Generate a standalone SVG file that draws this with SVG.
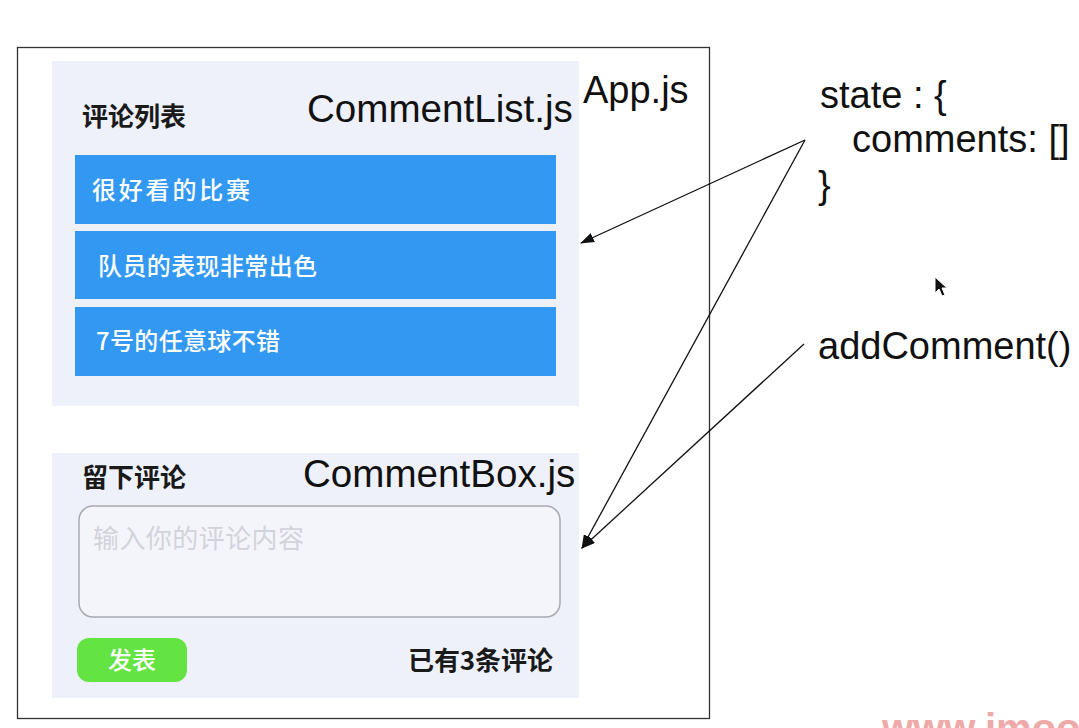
<svg xmlns="http://www.w3.org/2000/svg" width="1079" height="728" viewBox="0 0 1079 728">
<defs>
<style>
.lat{font-family:"Liberation Sans",Arial,sans-serif;font-size:38.6px;fill:#111}
.rt{font-size:38px}
.cjk{font-family:"Noto Sans CJK SC","Noto Sans",sans-serif}
.panel{fill:#eef1fa}
.row{fill:#3298f2}
.rowt{font-size:24px;fill:#ffffff;font-weight:500}
.head{font-size:26px;font-weight:bold;fill:#1a1a1a}
.conn{stroke:#111;stroke-width:1.3;fill:none;marker-end:url(#ah)}
</style>
<marker id="ah" viewBox="0 0 14 10" refX="13" refY="5" markerWidth="14" markerHeight="10" markerUnits="userSpaceOnUse" orient="auto">
<path d="M0,0 L14,5 L0,10 z" fill="#111"/>
</marker>
</defs>
<rect width="1079" height="728" fill="#ffffff"/>

<g id="app">
<rect x="17.5" y="47.5" width="692" height="671" fill="none" stroke="#333" stroke-width="1.3"/>
<text class="lat rt" x="583" y="103">App.js</text>
</g>

<g id="commentlist">
<rect class="panel" x="52" y="61" width="527" height="345"/>
<text class="cjk head" x="82" y="126" textLength="104">评论列表</text>
<text class="lat" x="307" y="122">CommentList.js</text>
<g id="item1">
<rect class="row" x="75" y="155" width="481" height="69"/>
<text class="cjk rowt" x="92" y="199" font-size="26" textLength="158">很好看的比赛</text>
</g>
<g id="item2">
<rect class="row" x="75" y="231" width="481" height="68"/>
<text class="cjk rowt" x="98" y="275" textLength="219">队员的表现非常出色</text>
</g>
<g id="item3">
<rect class="row" x="75" y="307" width="481" height="69"/>
<text class="cjk rowt" x="96" y="350" textLength="184">7号的任意球不错</text>
</g>
</g>

<g id="commentbox">
<rect class="panel" x="52" y="453" width="527" height="245"/>
<text class="cjk head" x="82" y="487" textLength="104">留下评论</text>
<text class="lat" x="303" y="487">CommentBox.js</text>
<rect x="79" y="506" width="481" height="111" rx="14" fill="#f4f5fb" stroke="#a9a9b0" stroke-width="1.5"/>
<text class="cjk" x="93" y="548" font-size="26" fill="#d2d3da" textLength="211">输入你的评论内容</text>
<rect x="77" y="638" width="110" height="44" rx="12" fill="#64e443"/>
<text class="cjk" x="108" y="669" font-size="24" font-weight="500" fill="#ffffff" textLength="48">发表</text>
<text class="cjk head" x="408" y="670" textLength="145">已有3条评论</text>
</g>

<g id="state">
<text class="lat rt" x="820" y="108">state : {</text>
<text class="lat rt" x="852" y="152">comments: []</text>
<text class="lat rt" x="818" y="198">}</text>
</g>

<g id="addcomment">
<text class="lat rt" x="818" y="359">addComment()</text>
</g>

<g id="connectors">
<line class="conn" x1="805" y1="140" x2="581" y2="243"/>
<line class="conn" x1="805" y1="140" x2="582" y2="548"/>
<line class="conn" x1="804" y1="344" x2="582" y2="548"/>
</g>

<path d="M935,277 L935,293 L939,289 L942,296 L945,295 L942,288 L947,288 Z" fill="#111" stroke="#fff" stroke-width="1"/>

<text x="882" y="742" font-family="Liberation Sans,Arial,sans-serif" font-size="40" font-weight="bold" fill="#eea9a9">www.imooc</text>
</svg>
